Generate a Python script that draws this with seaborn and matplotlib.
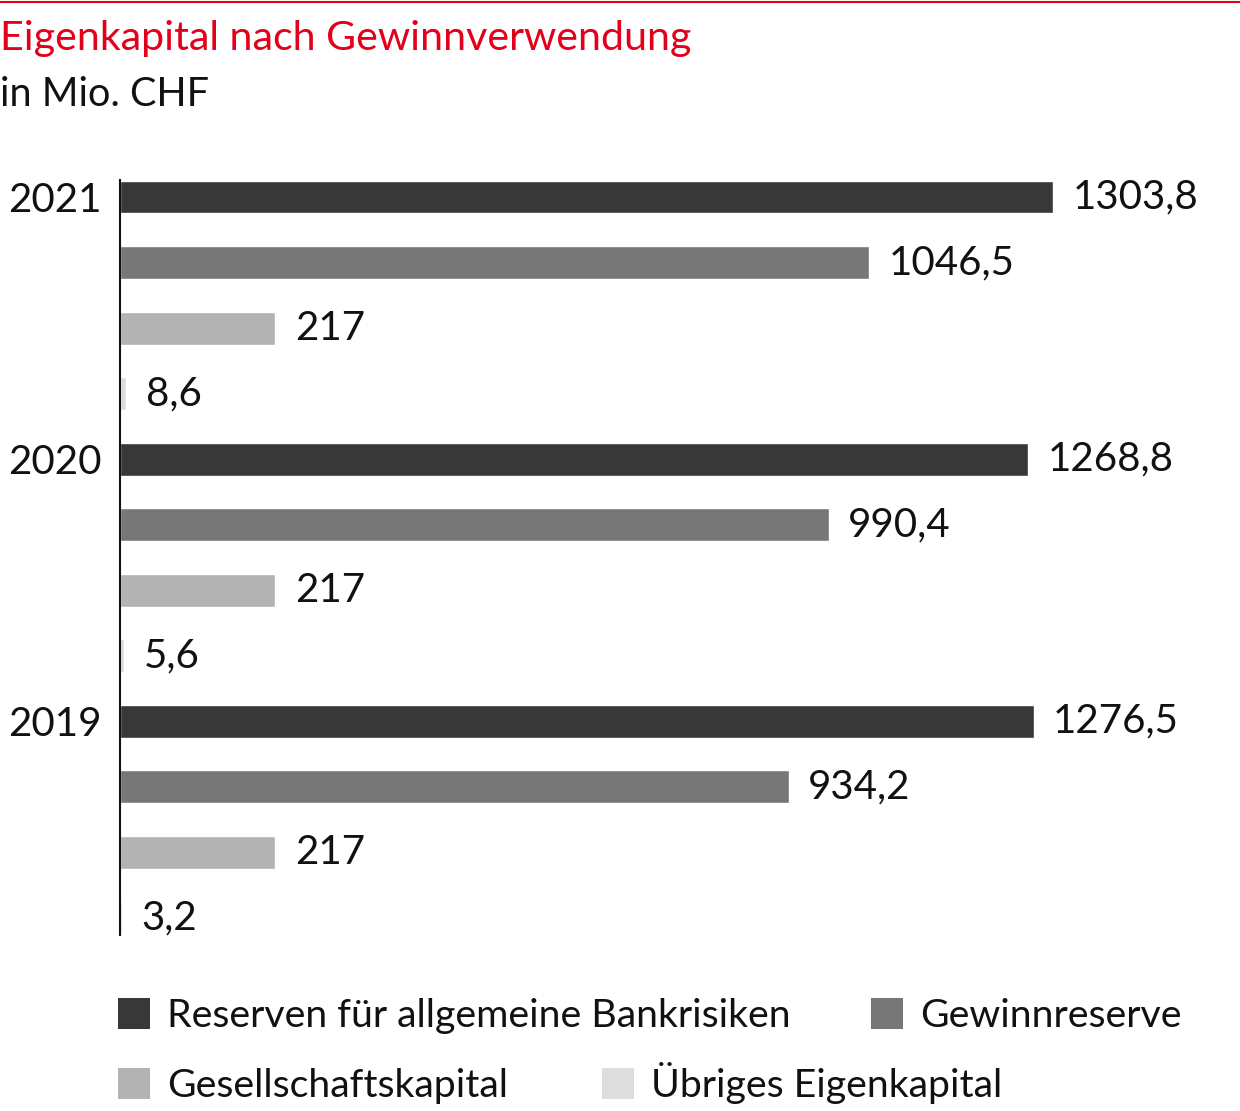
import matplotlib
matplotlib.use('Agg')
import matplotlib.pyplot as plt
import seaborn as sns
import pandas as pd
from matplotlib.patches import Patch
from matplotlib.lines import Line2D

years = ['2021', '2020', '2019']
series = ['Reserven für allgemeine Bankrisiken', 'Gewinnreserve',
          'Gesellschaftskapital', 'Übriges Eigenkapital']
reserven = [1303.8, 1268.8, 1276.5]
gewinnreserve = [1046.5, 990.4, 934.2]
gesellschaftskapital = [217, 217, 217]
uebriges = [8.6, 5.6, 3.2]
colors = ['#383838', '#777777', '#b3b3b3', '#dddddd']

rows = []
for i, y in enumerate(years):
    for s, vals in zip(series, [reserven, gewinnreserve, gesellschaftskapital, uebriges]):
        rows.append({'row': f'{y} {s}', 'year': y, 'series': s, 'value': vals[i]})
df = pd.DataFrame(rows)

sns.set_theme(style='white')
plt.rcParams['font.family'] = ['Lato', 'DejaVu Sans']
FW = 'normal'
TXT = '#111111'

fig = plt.figure(figsize=(12.4, 11.11), dpi=100)
ax = fig.add_axes([120/1240, 1-935/1111, 1120/1240, 755/1111])
sns.barplot(data=df, x='value', y='row', hue='series', palette=colors,
            dodge=False, width=0.5, ax=ax, legend=False, saturation=1)

def fmt(v):
    return f'{v:g}'.replace('.', ',')

for cont in ax.containers:
    ax.bar_label(cont, labels=[fmt(v) for v in cont.datavalues], padding=14,
                 fontsize=29, color=TXT, fontweight=FW)

ax.set_xlim(0, 1565)
ax.set_ylim(11.26, -0.26)
ax.set_yticks([0, 4, 8])
ax.set_yticklabels(years, fontsize=29, color=TXT, fontweight=FW)
ax.tick_params(axis='y', length=0, pad=13)
ax.set_xticks([])
ax.set_xlabel('')
ax.set_ylabel('')
for s in ['top', 'right', 'bottom']:
    ax.spines[s].set_visible(False)
ax.spines['left'].set_color('#111111')
ax.spines['left'].set_linewidth(1.5)

# top red rule
fig.add_artist(Line2D([0, 1], [1-1.5/1111, 1-1.5/1111], color='#e2001a', lw=1.5,
                      transform=fig.transFigure))
fig.text(0.0, 1-50/1111, 'Eigenkapital nach Gewinnverwendung', color='#e2001a',
         fontsize=29.6, va='baseline', ha='left')
fig.text(0.0, 1-106/1111, 'in Mio. CHF', color=TXT, fontsize=28.5, fontweight=FW,
         va='baseline', ha='left')

handles = [Patch(facecolor=c, edgecolor='none', label=s) for c, s in zip(colors, series)]
kw = dict(frameon=False, handlelength=0.82, handleheight=0.82,
          handletextpad=0.42, borderpad=0, borderaxespad=0,
          loc='upper left', ncol=2, prop={'weight': FW, 'size': 28.3})
leg1 = fig.legend(handles=handles[:2], bbox_to_anchor=(118/1240, 1-998/1111),
                  columnspacing=2.05, **kw)
leg2 = fig.legend(handles=handles[2:], bbox_to_anchor=(118/1240, 1-1062/1111),
                  columnspacing=2.4, **kw)
for lg in (leg1, leg2):
    for t in lg.get_texts():
        t.set_color(TXT)

fig.savefig('out.png', dpi=100)
